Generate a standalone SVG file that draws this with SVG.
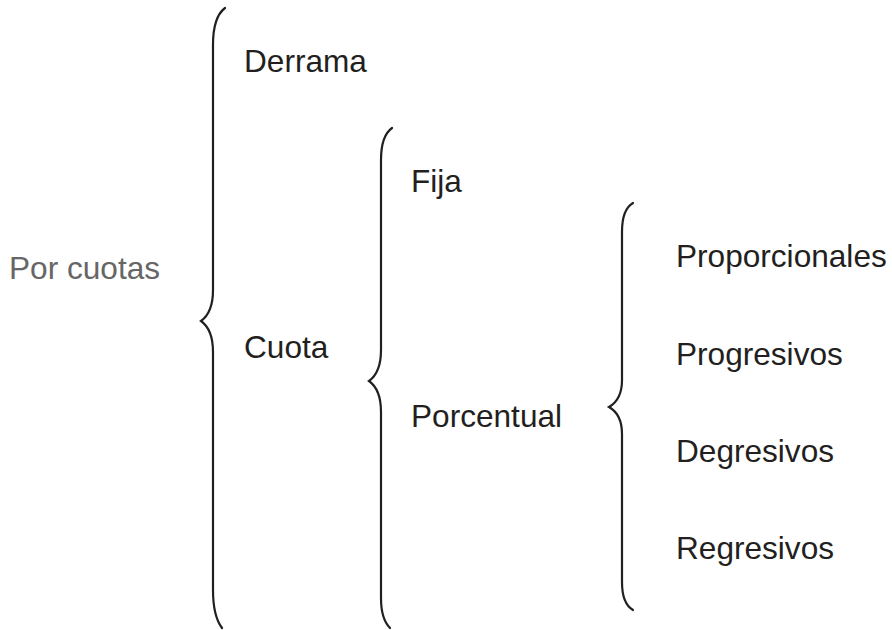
<svg xmlns="http://www.w3.org/2000/svg" width="892" height="630" viewBox="0 0 892 630">
<style>
.t{font-family:"Liberation Sans",Arial,sans-serif;font-size:31.6px;fill:#231f20}
.g{fill:#666666}
.b{fill:none;stroke:#231f20;stroke-width:2.2;stroke-linecap:round}
</style>
<rect width="892" height="630" fill="#ffffff"/>
<g id="connectors">
<path class="b" d="M225,8 C217,14 213,25 213,45 L213,290 C213,308 208,316 201,321 C208,326 213,334 213,352 L213,590 C213,608 216,620 222,628"/>
<path class="b" d="M392,128 C385,133 381,143 381,160 L381,350 C381,368 376,376 369,381 C376,386 381,394 381,412 L381,598 C381,612 384,622 390,628"/>
<path class="b" d="M633,203 C626,207 622,216 622,232 L622,380 C622,396 616,403 609,407 C616,411 622,418 622,434 L622,582 C622,598 626,606 633,610"/>
</g>
<g id="por-cuotas"><text class="t g" x="9" y="279">Por cuotas</text></g>
<g id="derrama"><text class="t" x="244" y="72">Derrama</text></g>
<g id="cuota"><text class="t" x="244" y="358">Cuota</text></g>
<g id="fija"><text class="t" x="411" y="192">Fija</text></g>
<g id="porcentual"><text class="t" x="411" y="427">Porcentual</text></g>
<g id="proporcionales"><text class="t" x="676" y="267">Proporcionales</text></g>
<g id="progresivos"><text class="t" x="676" y="365">Progresivos</text></g>
<g id="degresivos"><text class="t" x="676" y="462">Degresivos</text></g>
<g id="regresivos"><text class="t" x="676" y="559">Regresivos</text></g>
</svg>
